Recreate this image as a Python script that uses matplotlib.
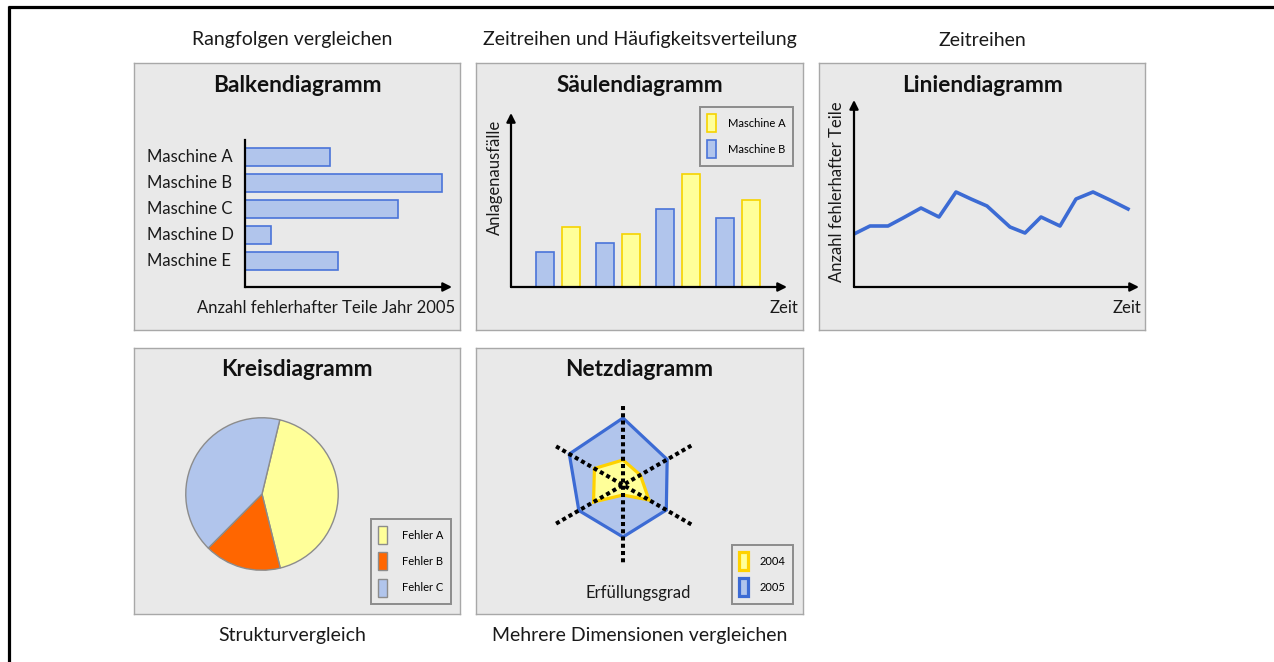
import numpy as np
import matplotlib
matplotlib.use('Agg')
import matplotlib.pyplot as plt
from matplotlib.lines import Line2D

# --- data ---
machines = ['Maschine A', 'Maschine B', 'Maschine C', 'Maschine D', 'Maschine E']
defects_2005 = [85, 197, 153, 26, 93]

col_periods = [0, 1, 2, 3]
failures_a = [60, 53, 113, 87]
failures_b = [35, 44, 78, 69]

line_time = [0, 16, 34, 49, 67, 85, 102, 117, 133, 156, 171, 187, 206, 222, 239, 256, 274]
line_defects = [53, 61, 61, 69, 79, 70, 95, 88, 81, 60, 54, 70, 61, 88, 95, 87, 78]

pie_labels = ['Fehler A', 'Fehler B', 'Fehler C']
pie_shares = [42.4, 16.3, 41.3]

radar_angles = [0, 60, 120, 180, 240, 300]
radar_2004 = [25, 20, 30, 10, 34, 33]
radar_2005 = [67, 51, 50, 52, 51, 62]

W, H = 1274, 662
BG = '#e9e9e9'
EDGE = '#a8a8a8'
BLUE_FILL = '#b1c5ec'
BLUE_EDGE = '#4a74d9'
YEL_FILL = '#ffff99'
YEL_EDGE = '#f6d300'
LINE_BLUE = '#3c6bd4'
FONT = ['Lato', 'DejaVu Sans']

plt.rcParams['font.family'] = FONT


def box(x0, y0, x1, y1):
    return [x0 / W, 1 - y1 / H, (x1 - x0) / W, (y1 - y0) / H]


def fx(x):
    return x / W


def fy(y):
    return 1 - y / H


def panel(fig, x0, y0, x1, y1, title):
    ax = fig.add_axes(box(x0, y0, x1, y1))
    ax.set_facecolor(BG)
    ax.set_xticks([])
    ax.set_yticks([])
    for s in ax.spines.values():
        s.set_color(EDGE)
        s.set_linewidth(1.0)
    ax.set_zorder(0)
    fig.text(fx((x0 + x1) / 2), fy(y0 + 22), title, ha='center', va='center',
             fontsize=16.3, fontweight='bold', color='#111111')
    return ax


def bare(ax):
    ax.patch.set_alpha(0)
    ax.set_xticks([])
    ax.set_yticks([])
    for s in ax.spines.values():
        s.set_visible(False)


def arrow(ax, end):
    ax.annotate('', xy=end, xytext=(0, 0), xycoords='axes fraction',
                arrowprops=dict(arrowstyle='-|>', color='black', lw=1.6,
                                mutation_scale=13, shrinkA=0, shrinkB=0),
                annotation_clip=False)


def legend(ax, handles, labels, x1, y0, pad=1.1):
    leg = ax.legend(handles, labels, loc='upper right',
                    bbox_to_anchor=(fx(x1), fy(y0)), bbox_transform=fig.transFigure,
                    fontsize=8, handlelength=0.8, handleheight=2.1,
                    labelspacing=0.75, handletextpad=pad, borderpad=0.65,
                    borderaxespad=0, fancybox=False, framealpha=1)
    fr = leg.get_frame()
    fr.set_facecolor(BG)
    fr.set_edgecolor('#8c8c8c')
    fr.set_linewidth(1.4)
    return leg


fig = plt.figure(figsize=(W / 100, H / 100), dpi=100)

# outer frame
fig.add_artist(Line2D([fx(8), 1.0], [fy(7), fy(7)], color='black', lw=2.3,
                      solid_capstyle='butt'))
fig.add_artist(Line2D([fx(9), fx(9)], [fy(6), 0.0], color='black', lw=2.3,
                      solid_capstyle='butt'))

# category labels
head = dict(ha='center', va='center', fontsize=14, color='#1a1a1a')
fig.text(fx(292), fy(40), 'Rangfolgen vergleichen', **head)
fig.text(fx(640), fy(40), 'Zeitreihen und Häufigkeitsverteilung', **head)
fig.text(fx(982), fy(40), 'Zeitreihen', **head)
fig.text(fx(292), fy(635), 'Strukturvergleich', **head)
fig.text(fx(640), fy(635), 'Mehrere Dimensionen vergleichen', **head)

body = dict(fontsize=12, color='#1a1a1a')

# ---------- Balkendiagramm ----------
panel(fig, 134, 63, 460, 330, 'Balkendiagramm')
ax = fig.add_axes(box(245, 140, 452, 287))
bare(ax)
ypos = np.arange(len(machines))[::-1]
ax.barh(ypos, defects_2005, height=0.69, color=BLUE_FILL, edgecolor=BLUE_EDGE, lw=1.2)
ax.set_xlim(0, 207)
ax.set_ylim(-1, 4.65)
ax.plot([0, 0], [0, 1], transform=ax.transAxes, color='black', lw=1.6, clip_on=False)
arrow(ax, (1, 0))
for yp, name in zip(ypos, machines):
    ax.text(-0.475, yp, name, transform=ax.get_yaxis_transform(), ha='left', va='center', **body)
fig.text(fx(455), fy(308), 'Anzahl fehlerhafter Teile Jahr 2005', ha='right', va='center', **body)

# ---------- Säulendiagramm ----------
panel(fig, 476, 63, 803, 330, 'Säulendiagramm')
ax = fig.add_axes(box(511, 113, 787, 287))
bare(ax)
xp = np.array(col_periods)
bb = ax.bar(xp - 0.217, failures_b, width=0.3, color=BLUE_FILL, edgecolor=BLUE_EDGE, lw=1.2)
ba = ax.bar(xp + 0.217, failures_a, width=0.3, color=YEL_FILL, edgecolor=YEL_EDGE, lw=1.2)
ax.set_xlim(-0.78, 3.82)
ax.set_ylim(0, 174)
arrow(ax, (1, 0))
arrow(ax, (0, 1))
legend(ax, [ba, bb], ['Maschine A', 'Maschine B'], 793, 107)
fig.text(fx(495), fy(177), 'Anlagenausfälle', rotation=90, ha='center', va='center', **body)
fig.text(fx(798), fy(308), 'Zeit', ha='right', va='center', **body)

# ---------- Liniendiagramm ----------
panel(fig, 819, 63, 1145, 330, 'Liniendiagramm')
ax = fig.add_axes(box(854, 100, 1139, 287))
bare(ax)
ax.plot(line_time, line_defects, color=LINE_BLUE, lw=2.6)
ax.set_xlim(0, 285)
ax.set_ylim(0, 187)
arrow(ax, (1, 0))
arrow(ax, (0, 1))
fig.text(fx(837), fy(192), 'Anzahl fehlerhafter Teile', rotation=90, ha='center', va='center', **body)
fig.text(fx(1141), fy(308), 'Zeit', ha='right', va='center', **body)

# ---------- Kreisdiagramm ----------
panel(fig, 134, 348, 460, 614, 'Kreisdiagramm')
ax = fig.add_axes(box(185, 417, 339, 571))
wedges, _ = ax.pie(pie_shares, colors=[YEL_FILL, '#ff6600', BLUE_FILL], startangle=76.5,
                   counterclock=False, wedgeprops=dict(edgecolor='#8c8c8c', linewidth=1.0))
ax.set_xlim(-1.01, 1.01)
ax.set_ylim(-1.01, 1.01)
ax.patch.set_alpha(0)
legend(ax, wedges, pie_labels, 451, 519, pad=1.4)

# ---------- Netzdiagramm ----------
panel(fig, 476, 348, 803, 614, 'Netzdiagramm')
ax = fig.add_axes(box(544, 406, 702, 564), projection='polar')
ax.set_theta_offset(np.pi / 2)
ax.set_theta_direction(-1)
th = np.deg2rad(radar_angles + [radar_angles[0]])
p05 = ax.fill(th, radar_2005 + [radar_2005[0]], facecolor=BLUE_FILL, edgecolor=LINE_BLUE, lw=2.3)
p04 = ax.fill(th, radar_2004 + [radar_2004[0]], facecolor=YEL_FILL, edgecolor='#ffd200', lw=2.3)
# dotted spokes drawn as straight chords through the centre
for a in radar_angles[:3]:
    ax.plot(np.deg2rad([a, a + 180]), [79, 79], color='black', lw=2.9,
            linestyle=(0, (1, 0.8)), dash_capstyle='butt')
ax.set_ylim(0, 79)
ax.grid(False)
ax.set_xticks([])
ax.set_yticks([])
ax.spines['polar'].set_visible(False)
ax.patch.set_alpha(0)
legend(ax, [p04[0], p05[0]], ['2004', '2005'], 793, 545)
fig.text(fx(638), fy(593), 'Erfüllungsgrad', ha='center', va='center', **body)

fig.savefig('out.png', dpi=100, facecolor='white')
